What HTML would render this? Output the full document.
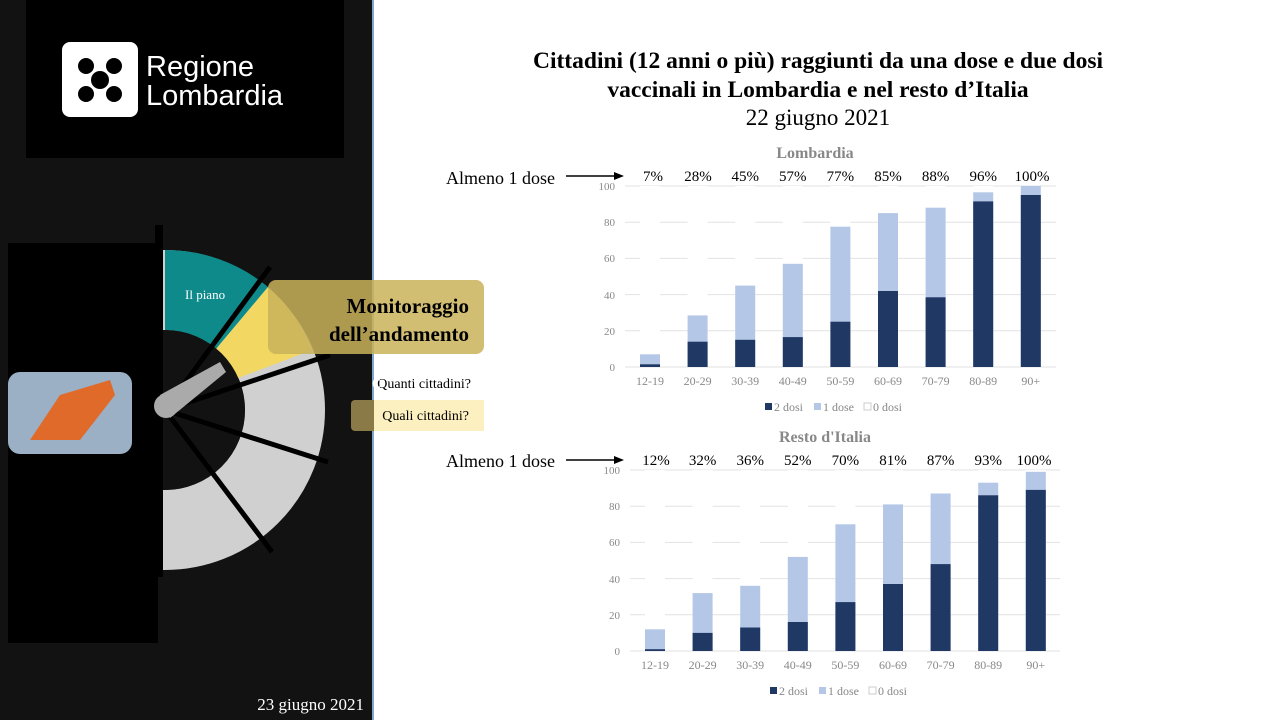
<!DOCTYPE html>
<html><head><meta charset="utf-8"><style>
body{margin:0;width:1280px;height:720px;overflow:hidden;background:#fff;font-family:"Liberation Serif",serif}
</style></head><body>
<svg width="1280" height="720" xmlns="http://www.w3.org/2000/svg" font-family="Liberation Serif, serif">
<rect x="0" y="0" width="372" height="720" fill="#121212"/>
<rect x="372" y="0" width="2" height="720" fill="#7fa7d0"/>
<rect x="26" y="0" width="318" height="158" fill="#000"/>
<rect x="62" y="42" width="76" height="75" rx="8" fill="#fff"/>
<g fill="#000"><circle cx="86" cy="66" r="8"/><circle cx="114" cy="66" r="8"/><circle cx="86" cy="94" r="8"/><circle cx="114" cy="94" r="8"/><circle cx="100" cy="80" r="9"/></g>
<text x="146" y="76" font-family="Liberation Sans, sans-serif" font-size="29" fill="#fff">Regione</text>
<text x="146" y="105" font-family="Liberation Sans, sans-serif" font-size="29" fill="#fff">Lombardia</text>
<defs><clipPath id="rc"><rect x="163" y="200" width="220" height="400"/></clipPath></defs>
<g clip-path="url(#rc)">
<circle cx="165" cy="410" r="120" fill="none" stroke="#d0d0d0" stroke-width="80"/>
<path d="M165 250 A160 160 0 0 1 268 287 L216 349 A80 80 0 0 0 165 330Z" fill="#0e8a8a"/>
<path d="M268 287 A160 160 0 0 1 312 350 L238 378 A80 80 0 0 0 216 349Z" fill="#f2d862"/>
<circle cx="165" cy="410" r="80" fill="#121212"/>
<g stroke="#000" stroke-width="5"><line x1="165" y1="410" x2="270" y2="267"/><line x1="165" y1="410" x2="330" y2="355"/><line x1="165" y1="410" x2="328" y2="462"/><line x1="165" y1="410" x2="272" y2="552"/></g>
</g>
<rect x="8" y="243" width="150" height="400" fill="#000"/>
<rect x="155" y="225" width="8" height="352" fill="#000"/>
<path d="M160 395 L220 362 L226 372 L170 418 Z" fill="#aaa"/><circle cx="166" cy="406" r="12" fill="#aaa"/>
<rect x="8" y="372" width="124" height="82" rx="12" fill="#9bb0c4"/>
<path d="M30 440 L60 395 L110 380 L115 395 L80 440Z" fill="#e06a2a"/>
<text x="185" y="299" font-size="13" fill="#fff">Il piano</text>
<rect x="268" y="280" width="216" height="74" rx="8" fill="#c9b35a" opacity="0.85"/>
<text x="469" y="313" font-size="21" font-weight="bold" text-anchor="end" fill="#000">Monitoraggio</text>
<text x="469" y="341" font-size="21" font-weight="bold" text-anchor="end" fill="#000">dell’andamento</text>
<text x="471" y="388" font-size="14" text-anchor="end" fill="#000">Quanti cittadini?</text>
<text x="372" y="388" font-size="14" fill="#fff">Q</text>
<rect x="351" y="400" width="133" height="31" rx="4" fill="#8a7a48"/><rect x="374" y="400" width="110" height="31" fill="#fdf0c0"/>
<text x="469" y="420" font-size="14" text-anchor="end" fill="#000">Quali cittadini?</text>
<text x="364" y="710" font-size="17" text-anchor="end" fill="#fff">23 giugno 2021</text>
<text x="818" y="68" font-size="23.5" font-weight="bold" text-anchor="middle">Cittadini (12 anni o più) raggiunti da una dose e due dosi</text>
<text x="818" y="97" font-size="23.5" font-weight="bold" text-anchor="middle">vaccinali in Lombardia e nel resto d’Italia</text>
<text x="818" y="125" font-size="23" text-anchor="middle">22 giugno 2021</text>
<text x="815" y="158" font-size="16" font-weight="bold" fill="#888" text-anchor="middle">Lombardia</text>
<text x="825" y="442" font-size="16" font-weight="bold" fill="#888" text-anchor="middle">Resto d'Italia</text>
<g font-size="18"><text x="446" y="184">Almeno 1 dose</text><text x="446" y="467">Almeno 1 dose</text></g>
<g stroke="#000" stroke-width="1.5"><line x1="566" y1="176" x2="620" y2="176"/><line x1="566" y1="460" x2="620" y2="460"/></g>
<path d="M624 176 L614 172 L614 180Z M624 460 L614 456 L614 464Z"/>

<!-- Chart 1 -->
<g stroke="#e2e2e2">
<line x1="625" x2="1056" y1="367" y2="367"/><line x1="625" x2="1056" y1="330.8" y2="330.8"/><line x1="625" x2="1056" y1="294.6" y2="294.6"/><line x1="625" x2="1056" y1="258.4" y2="258.4"/><line x1="625" x2="1056" y1="222.2" y2="222.2"/><line x1="625" x2="1056" y1="186" y2="186"/>
</g>
<g font-size="11" fill="#888" text-anchor="end">
<text x="615" y="371">0</text><text x="615" y="335">20</text><text x="615" y="299">40</text><text x="615" y="262">60</text><text x="615" y="226">80</text><text x="615" y="190">100</text>
</g>
<g fill="#fff">
<rect x="640" y="186" width="20" height="181"/><rect x="687.6" y="186" width="20" height="181"/><rect x="735.2" y="186" width="20" height="181"/><rect x="782.8" y="186" width="20" height="181"/><rect x="830.4" y="186" width="20" height="181"/><rect x="878" y="186" width="20" height="181"/><rect x="925.6" y="186" width="20" height="181"/><rect x="973.2" y="186" width="20" height="181"/><rect x="1020.8" y="186" width="20" height="181"/>
</g>
<g fill="#b4c7e7">
<rect x="640" y="354.3" width="20" height="12.7"/><rect x="687.6" y="315.4" width="20" height="51.6"/><rect x="735.2" y="285.6" width="20" height="81.4"/><rect x="782.8" y="263.8" width="20" height="103.2"/><rect x="830.4" y="226.7" width="20" height="140.3"/><rect x="878" y="213.1" width="20" height="153.9"/><rect x="925.6" y="207.7" width="20" height="159.3"/><rect x="973.2" y="192.3" width="20" height="174.7"/><rect x="1020.8" y="186" width="20" height="181"/>
</g>
<g fill="#203864">
<rect x="640" y="364.3" width="20" height="2.7"/><rect x="687.6" y="341.7" width="20" height="25.3"/><rect x="735.2" y="339.8" width="20" height="27.2"/><rect x="782.8" y="337.1" width="20" height="29.9"/><rect x="830.4" y="321.7" width="20" height="45.3"/><rect x="878" y="291" width="20" height="76"/><rect x="925.6" y="297.3" width="20" height="69.7"/><rect x="973.2" y="201.4" width="20" height="165.6"/><rect x="1020.8" y="195" width="20" height="172"/>
</g>
<g font-size="12" fill="#888" text-anchor="middle">
<text x="650" y="385">12-19</text><text x="697.6" y="385">20-29</text><text x="745.2" y="385">30-39</text><text x="792.8" y="385">40-49</text><text x="840.4" y="385">50-59</text><text x="888" y="385">60-69</text><text x="935.6" y="385">70-79</text><text x="983.2" y="385">80-89</text><text x="1030.8" y="385">90+</text>
</g>
<g font-size="15" text-anchor="middle">
<text x="653" y="181">7%</text><text x="698" y="181">28%</text><text x="745.2" y="181">45%</text><text x="792.8" y="181">57%</text><text x="840.4" y="181">77%</text><text x="888" y="181">85%</text><text x="935.6" y="181">88%</text><text x="983.2" y="181">96%</text><text x="1032" y="181">100%</text>
</g>
<g font-size="12" fill="#888">
<rect x="765" y="403" width="7" height="7" fill="#203864"/><text x="774" y="411">2 dosi</text>
<rect x="814" y="403" width="7" height="7" fill="#b4c7e7"/><text x="823" y="411">1 dose</text>
<rect x="864" y="403" width="7" height="7" fill="#fff" stroke="#ccc"/><text x="873" y="411">0 dosi</text>
</g>

<!-- Chart 2 -->
<g stroke="#e2e2e2">
<line x1="630" x2="1060" y1="651" y2="651"/><line x1="630" x2="1060" y1="614.8" y2="614.8"/><line x1="630" x2="1060" y1="578.6" y2="578.6"/><line x1="630" x2="1060" y1="542.4" y2="542.4"/><line x1="630" x2="1060" y1="506.2" y2="506.2"/><line x1="630" x2="1060" y1="470" y2="470"/>
</g>
<g font-size="11" fill="#888" text-anchor="end">
<text x="620" y="655">0</text><text x="620" y="619">20</text><text x="620" y="583">40</text><text x="620" y="546">60</text><text x="620" y="510">80</text><text x="620" y="474">100</text>
</g>
<g fill="#fff">
<rect x="645" y="470" width="20" height="181"/><rect x="692.6" y="470" width="20" height="181"/><rect x="740.2" y="470" width="20" height="181"/><rect x="787.8" y="470" width="20" height="181"/><rect x="835.4" y="470" width="20" height="181"/><rect x="883" y="470" width="20" height="181"/><rect x="930.6" y="470" width="20" height="181"/><rect x="978.2" y="470" width="20" height="181"/><rect x="1025.8" y="470" width="20" height="181"/>
</g>
<g fill="#b4c7e7">
<rect x="645" y="629.3" width="20" height="21.7"/><rect x="692.6" y="593.1" width="20" height="57.9"/><rect x="740.2" y="585.8" width="20" height="65.2"/><rect x="787.8" y="556.9" width="20" height="94.1"/><rect x="835.4" y="524.3" width="20" height="126.7"/><rect x="883" y="504.4" width="20" height="146.6"/><rect x="930.6" y="493.5" width="20" height="157.5"/><rect x="978.2" y="482.7" width="20" height="168.3"/><rect x="1025.8" y="471.8" width="20" height="179.2"/>
</g>
<g fill="#203864">
<rect x="645" y="649.2" width="20" height="1.8"/><rect x="692.6" y="632.9" width="20" height="18.1"/><rect x="740.2" y="627.5" width="20" height="23.5"/><rect x="787.8" y="622" width="20" height="29"/><rect x="835.4" y="602.1" width="20" height="48.9"/><rect x="883" y="584" width="20" height="67"/><rect x="930.6" y="564.1" width="20" height="86.9"/><rect x="978.2" y="495.3" width="20" height="155.7"/><rect x="1025.8" y="489.9" width="20" height="161.1"/>
</g>
<g font-size="12" fill="#888" text-anchor="middle">
<text x="655" y="669">12-19</text><text x="702.6" y="669">20-29</text><text x="750.2" y="669">30-39</text><text x="797.8" y="669">40-49</text><text x="845.4" y="669">50-59</text><text x="893" y="669">60-69</text><text x="940.6" y="669">70-79</text><text x="988.2" y="669">80-89</text><text x="1035.8" y="669">90+</text>
</g>
<g font-size="15" text-anchor="middle">
<text x="656" y="465">12%</text><text x="702.6" y="465">32%</text><text x="750.2" y="465">36%</text><text x="797.8" y="465">52%</text><text x="845.4" y="465">70%</text><text x="893" y="465">81%</text><text x="940.6" y="465">87%</text><text x="988.2" y="465">93%</text><text x="1034" y="465">100%</text>
</g>
<g font-size="12" fill="#888">
<rect x="770" y="687" width="7" height="7" fill="#203864"/><text x="779" y="695">2 dosi</text>
<rect x="819" y="687" width="7" height="7" fill="#b4c7e7"/><text x="828" y="695">1 dose</text>
<rect x="869" y="687" width="7" height="7" fill="#fff" stroke="#ccc"/><text x="878" y="695">0 dosi</text>
</g>
</svg>
</body></html>
